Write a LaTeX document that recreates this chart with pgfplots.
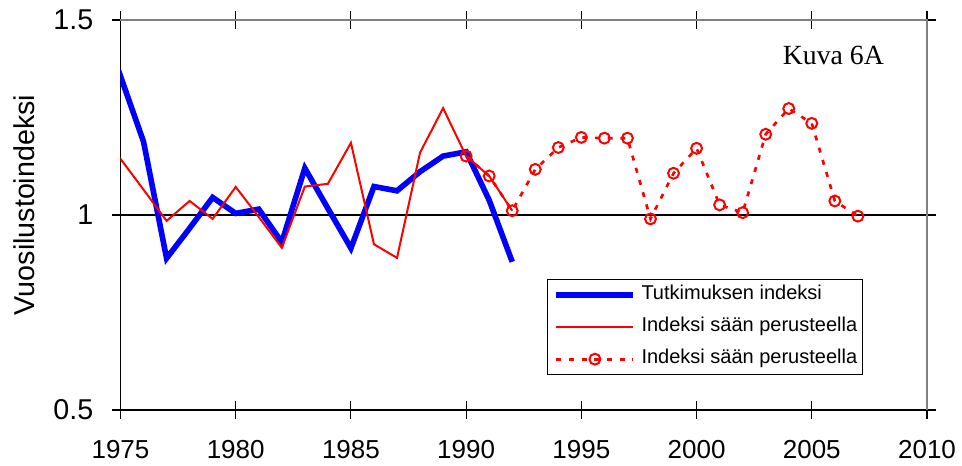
\documentclass[border=0pt]{standalone}
\usepackage{fontspec}
\setmainfont{Liberation Sans}
\newfontfamily\serifkuva{Liberation Serif}
\usepackage{pgfplots}
\pgfplotsset{compat=1.18}
\definecolor{exblue}{RGB}{0,0,255}
\definecolor{exred}{RGB}{255,0,0}
\begin{document}
\begin{tikzpicture}
\begin{axis}[
  scale only axis, width=604.9pt, height=292.5pt,
  xmin=1975, xmax=2010, ymin=0.5, ymax=1.5,
  xtick={1975,1980,...,2010}, ytick={0.5,1,1.5},
  tick align=center, major tick length=13pt,
  tick style={black, line width=0.8pt},
  axis line style={black, line width=1.2pt},
  /pgf/number format/assume math mode=true,
  xticklabel style={font=\fontsize{19.5}{22}\selectfont, /pgf/number format/1000 sep={}, inner sep=1pt, yshift=-14.75pt},
  yticklabel style={font=\fontsize{21.5}{25}\selectfont, xshift=-10.4pt},
  ylabel={Vuosilustoindeksi},
  every axis y label/.style={at={(rel axis cs:-0.1188,0.5256)}, anchor=center, rotate=90, font=\fontsize{21.5}{25}\selectfont},
  clip mode=individual,
  legend cell align=left,
  legend style={at={(rel axis cs:0.5292,0.3351)}, anchor=north west, draw=black, line width=0.8pt, fill=white,
    font=\fontsize{15}{18}\selectfont, inner xsep=4.3pt, inner ysep=6pt, row sep=13pt,
    nodes={inner xsep=0pt, inner ysep=0pt, text height=0.9em, text depth=0.2em},
    /tikz/every odd column/.append style={column sep=4pt}},
  legend image code/.code={\draw[mark repeat=2,mark phase=2] plot coordinates {(0pt,0pt) (28.9pt,0pt) (57.75pt,0pt)};},
]
\draw[black, line width=1pt] (rel axis cs:0,0.5) -- (rel axis cs:1,0.5);

\addplot[exblue, line width=4.2pt, no marks] coordinates {
(1974,1.166) (1975,1.356) (1976,1.188) (1977,0.889) (1978,0.966) (1979,1.045)
(1980,1.004) (1981,1.015) (1982,0.93) (1983,1.12) (1984,1.017) (1985,0.915)
(1986,1.073) (1987,1.062) (1988,1.111) (1989,1.151) (1990,1.162) (1991,1.038) (1992,0.88)};
\addlegendentry{Tutkimuksen indeksi}

\addplot[exred, line width=1.5pt, no marks] coordinates {
(1974,1.056) (1975,1.144) (1976,1.065) (1977,0.985) (1978,1.036) (1979,0.99)
(1980,1.072) (1981,0.995) (1982,0.916) (1983,1.073) (1984,1.08) (1985,1.185)
(1986,0.925) (1987,0.89) (1988,1.16) (1989,1.274) (1990,1.151) (1991,1.1) (1992,1.011)};
\addlegendentry{Indeksi sään perusteella}

\addplot[exred, line width=2pt, dash pattern=on 3.75pt off 5.75pt, mark=o, mark size=4.1pt,
  mark options={solid, line width=1.5pt}] coordinates {
(1990,1.151) (1991,1.1) (1992,1.011) (1993,1.117) (1994,1.173) (1995,1.199)
(1996,1.197) (1997,1.197) (1998,0.99) (1999,1.107) (2000,1.171) (2001,1.026)
(2002,1.006) (2003,1.207) (2004,1.273) (2005,1.235) (2006,1.036) (2007,0.997)};
\addlegendentry{Indeksi sään perusteella}

\draw[gray, line width=1.5pt] (rel axis cs:0,1) -- (rel axis cs:1,1) -- (rel axis cs:1,0);
\node[anchor=base west, inner sep=0pt, font=\serifkuva\fontsize{20.8}{24}\selectfont] at (rel axis cs:0.821,0.887) {Kuva 6A};

\coordinate (BL) at (rel axis cs:-0.1494,-0.1436);
\coordinate (TR) at (rel axis cs:1.0434,1.0513);
\end{axis}
\pgfresetboundingbox
\path (BL) rectangle (TR);
\end{tikzpicture}
\end{document}
